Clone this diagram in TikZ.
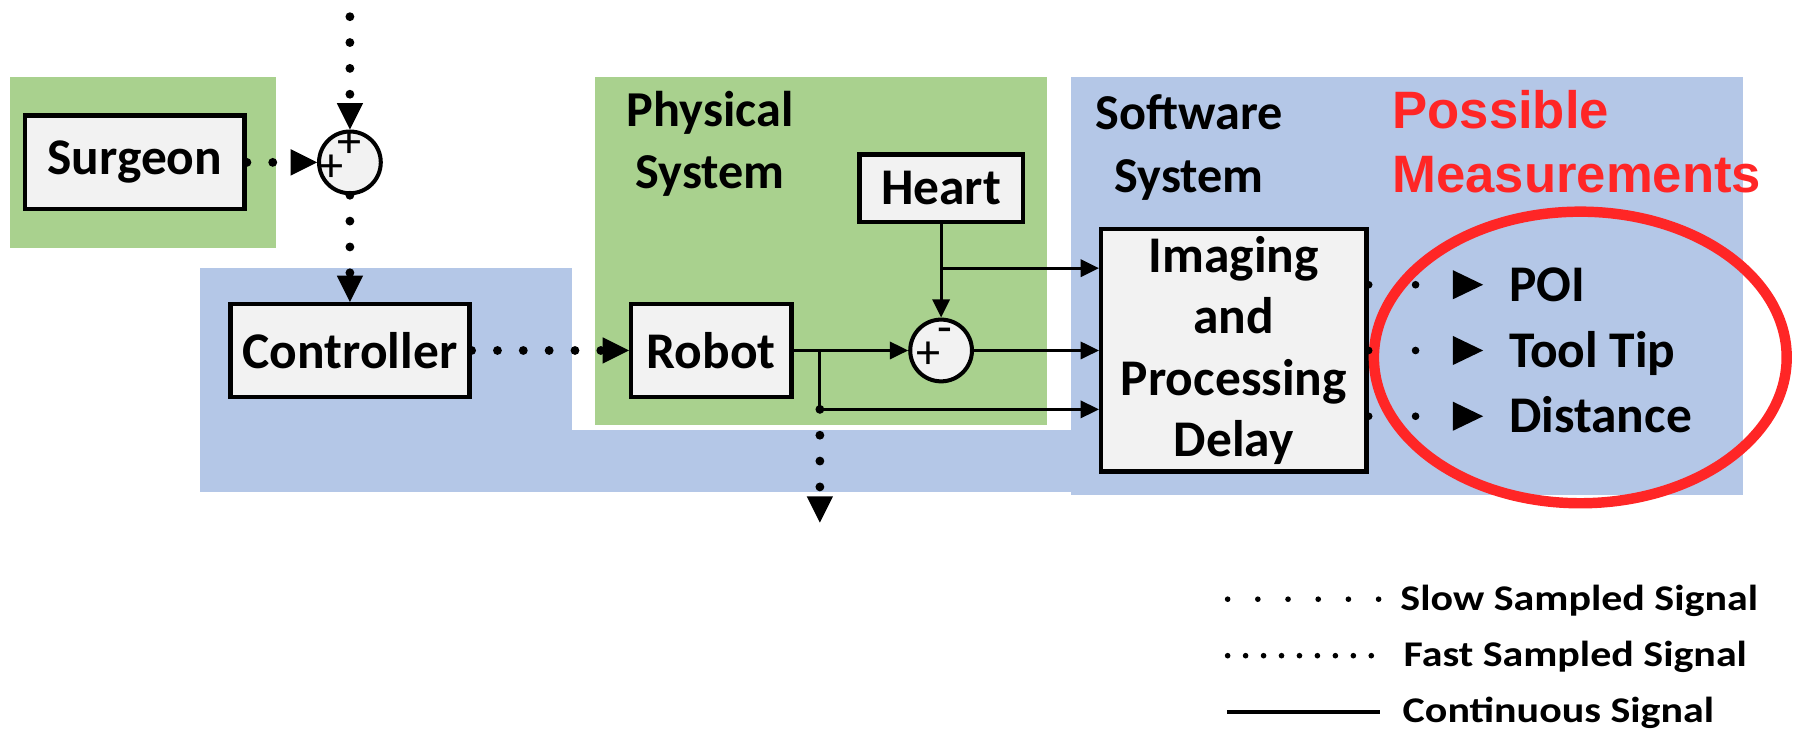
\documentclass[tikz,border=0pt]{standalone}
\usepackage{fontspec}
\setmainfont{Carlito}
\newfontfamily\measfont{Liberation Sans}
\newfontfamily\legendfont[FakeStretch=1.16]{Carlito}
\usetikzlibrary{arrows.meta,shapes.geometric}
\definecolor{physgreen}{RGB}{169,209,142}
\definecolor{sysblue}{RGB}{180,199,231}
\definecolor{boxgray}{RGB}{242,242,242}
\definecolor{measred}{RGB}{255,38,38}

\begin{document}
\begin{tikzpicture}[x=0.1mm,y=-0.1mm,
  blk/.style={draw, line width=1.1pt, fill=boxgray, inner sep=0pt, align=center,
    font=\fontsize{12.8}{15.3}\selectfont\bfseries},
  sumpt/.style={draw, circle, line width=1pt, fill=boxgray, minimum size=5.4mm, inner sep=0pt},
  sgn/.style={inner sep=0pt, font=\fontsize{12}{12}\selectfont},
  lbl/.style={inner sep=0pt, align=center, font=\fontsize{12.5}{15.5}\selectfont\bfseries},
  slow/.style={line width=2.2pt, line cap=round, dash pattern=on 0pt off 2.26mm,
    -{Triangle[length=2.3mm,width=2.3mm,line width=0pt]}},
  cont/.style={line width=0.75pt, -{Triangle[length=1.6mm,width=1.5mm]}},
  outdots/.style={line width=1.9pt, line cap=round, dash pattern=on 0pt off 4.1mm,
    -{Triangle[length=2.65mm,width=2.55mm,line width=0pt]}},
  meas/.style={anchor=west, inner xsep=2.2mm, inner ysep=0pt, text height=2.9mm, text depth=0pt,
    font=\fontsize{12.8}{15.3}\selectfont\bfseries},
  lg/.style={anchor=base west, inner sep=0pt, font=\legendfont\fontsize{9}{11}\selectfont\bfseries}
]
\useasboundingbox (0,0) rectangle (1568,640);

\fill[sysblue] (175,234) rectangle (937,430);
\fill[sysblue] (937,67.5) rectangle (1524,433);
\fill[white] (500,230) rectangle (937,376);
\fill[physgreen] (520.5,67.5) rectangle (915.5,372);
\fill[physgreen] (9,67.5) rectangle (241,216.5);

\node[lbl] (phys) at (621,126) {Physical\\System};
\node[lbl] (soft) at (1040,129) {Software\\System};
\node[inner sep=0pt, anchor=west, align=left, text=measred,
  font=\measfont\fontsize{13.1}{15.8}\selectfont\bfseries] (possmeas) at (1217,124) {Possible\\Measurements};

\node[blk, minimum width=19.2mm, minimum height=8.2mm] (surgeon) at (118,142) {Surgeon};
\node[sumpt] (sumA) at (306,142) {};
\node[sgn] (sumAtop) at (306,126.5) {+};
\node[sgn] (sumAleft) at (290,147.5) {+};
\node[blk, minimum width=20.9mm, minimum height=8.1mm] (ctrl) at (306,306.5) {Controller};
\node[blk, minimum width=14.0mm, minimum height=8.1mm] (robot) at (622,306.5) {Robot};
\node[blk, minimum width=14.3mm, minimum height=5.9mm] (heart) at (823,164.5) {Heart};
\node[sumpt] (sumB) at (823,306.5) {};
\node[sgn] (sumBplus) at (812,311) {+};
\node[sgn] (sumBminus) at (826,294) {-};
\node[blk, minimum width=23.2mm, minimum height=21.2mm] (img) at (1079,306.5) {Imaging\\and\\Processing\\Delay};

\node[meas] (poi) at (1297,249) {POI};
\node[meas] (tooltip) at (1297,306.5) {Tool Tip};
\node[meas] (dist) at (1297,364) {Distance};
\node[draw=measred, ellipse, line width=2.6pt, minimum width=36.1mm, minimum height=25.5mm, inner sep=0pt]
  (measring) at (1382,312.6) {};

\coordinate (topin) at (306,14.6);
\coordinate (split) at (717,358);
\coordinate (hsplit) at (823,234.5);
\coordinate (downout) at (717,457);

\draw[slow] (topin) -- (sumA);
\draw[slow] (surgeon) -- (sumA);
\draw[slow] (sumA) -- (ctrl);
\draw[slow] (ctrl) -- (robot);
\draw[cont] (robot) -- (sumB);
\draw[cont] (split |- robot.east) -- (split) -- (split -| img.west);
\draw[cont] (heart) -- (sumB);
\draw[cont] (hsplit) -- (hsplit -| img.west);
\draw[cont] (sumB) -- (img);
\draw[slow] (split) -- (downout);
\draw[outdots] (img.east |- poi) -- (poi);
\draw[outdots] (img.east |- tooltip) -- (tooltip);
\draw[outdots] (img.east |- dist) -- (dist);

\node[lg] (lgslow) at (1224,533.5) {Slow Sampled Signal};
\node[lg] (lgfast) at (1226.8,583) {Fast Sampled Signal};
\node[lg] (lgcont) at (1226,632) {Continuous Signal};
\draw[line width=1.4pt, line cap=round, dash pattern=on 0pt off 2.64mm] (1073.6,524) -- (1206,524);
\draw[line width=1.4pt, line cap=round, dash pattern=on 0pt off 1.57mm] (1073.6,573.4) -- (1200,573.4);
\draw[line width=1pt] (1073,622.4) -- (1207,622.4);
\end{tikzpicture}
\end{document}
